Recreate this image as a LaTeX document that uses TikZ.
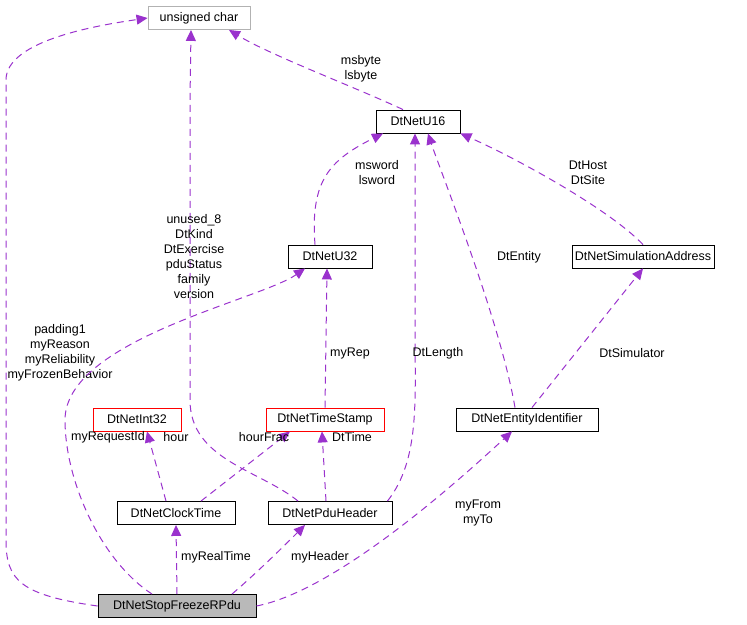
\documentclass[tikz,border=0pt]{standalone}
\usepackage{fontspec}
\setmainfont{Liberation Sans}
\usetikzlibrary{arrows.meta}
\definecolor{edge}{HTML}{9A32CD}
\begin{document}
\begin{tikzpicture}[x=1pt,y=-1pt,
  box/.style={draw=black,fill=white,minimum height=23pt,inner sep=0pt,line width=0.9pt,font=\fontsize{12.5}{14}\selectfont},
  lbl/.style={font=\fontsize{12.5}{15}\selectfont,align=center,inner sep=1pt},
  e/.style={draw=edge,dashed,dash pattern=on 7pt off 5pt,line width=1pt,-{Triangle[length=11pt,width=10pt,fill=edge]}}]
\useasboundingbox (0,0) rectangle (747,624);
\node[box,draw=gray!60,minimum width=102pt] (uc) at (199,18) {unsigned char};
\node[box,minimum width=84pt] (u16) at (418,121.5) {DtNetU16};
\node[box,minimum width=84pt] (u32) at (330,256.5) {DtNetU32};
\node[box,minimum width=142pt] (sim) at (643,256.5) {DtNetSimulationAddress};
\node[box,draw=red,minimum width=88pt] (i32) at (137,419.5) {DtNetInt32};
\node[box,draw=red,minimum width=118pt] (ts) at (325,419.5) {DtNetTimeStamp};
\node[box,minimum width=142pt] (eid) at (527,419.5) {DtNetEntityIdentifier};
\node[box,minimum width=118pt] (ct) at (176,513) {DtNetClockTime};
\node[box,minimum width=124pt] (ph) at (330,513) {DtNetPduHeader};
\node[box,fill=gray!55,minimum width=158pt] (sf) at (177,606) {DtNetStopFreezeRPdu};

\draw[e] (sf.west) .. controls (20,595) and (6,580) .. (6,540) -- (6,80) .. controls (6,40) and (100,25) .. (uc.west);
\node[lbl] at (60,353) {padding1\\myReason\\myReliability\\myFrozenBehavior};
\draw[e] ([xshift=-25pt]sf.north) .. controls (100,560) and (65,480) .. (65,420) .. controls (65,340) and (260,300) .. ([xshift=-25pt]u32.south);
\node[lbl] at (108,437) {myRequestId};
\draw[e] (sf.north) -- (ct.south);
\node[lbl] at (216,557) {myRealTime};
\draw[e] ([xshift=55pt]sf.north) .. controls (260,570) and (290,540) .. ([xshift=-25pt]ph.south);
\node[lbl] at (320,557) {myHeader};
\draw[e] (sf.east) .. controls (340,590) and (470,470) .. ([xshift=-15pt]eid.south);
\node[lbl] at (478,513) {myFrom\\myTo};
\draw[e] ([xshift=-10pt]ct.north) -- ([xshift=10pt]i32.south);
\node[lbl] at (176,437) {hour};
\draw[e] ([xshift=25pt]ct.north) -- ([xshift=-35pt]ts.south);
\node[lbl] at (264,437) {hourFrac};
\draw[e] ([xshift=-4pt]ph.north) -- ([xshift=-3pt]ts.south);
\node[lbl] at (352,437) {DtTime};
\draw[e] ([xshift=-32pt]ph.north) .. controls (260,470) and (190,460) .. (190,400) -- (190,100) -- ([xshift=-8pt]uc.south);
\node[lbl] at (194,257) {unused\_8\\DtKind\\DtExercise\\pduStatus\\family\\version};
\draw[e] ([xshift=-5pt]ph.north east) .. controls (420,460) and (415,400) .. (415,330) -- ([xshift=-3pt]u16.south);
\node[lbl] at (438,353) {DtLength};
\draw[e] (ts.north) -- ([xshift=-3pt]u32.south);
\node[lbl] at (350,353) {myRep};
\draw[e] ([xshift=-15pt]u32.north) .. controls (310,180) and (330,160) .. ([xshift=-35pt]u16.south);
\node[lbl] at (377,173) {msword\\lsword};
\draw[e] ([xshift=-12pt]eid.north) .. controls (500,320) and (440,170) .. ([xshift=10pt]u16.south);
\node[lbl] at (519,257) {DtEntity};
\draw[e] ([xshift=5pt]eid.north) -- (sim.south);
\node[lbl] at (632,353) {DtSimulator};
\draw[e] (sim.north) .. controls (610,210) and (520,160) .. (u16.south east);
\node[lbl] at (588,173) {DtHost\\DtSite};
\draw[e] ([xshift=-15pt]u16.north) .. controls (350,85) and (270,55) .. ([xshift=30pt]uc.south);
\node[lbl] at (361,69) {msbyte\\lsbyte};
\end{tikzpicture}
\end{document}
